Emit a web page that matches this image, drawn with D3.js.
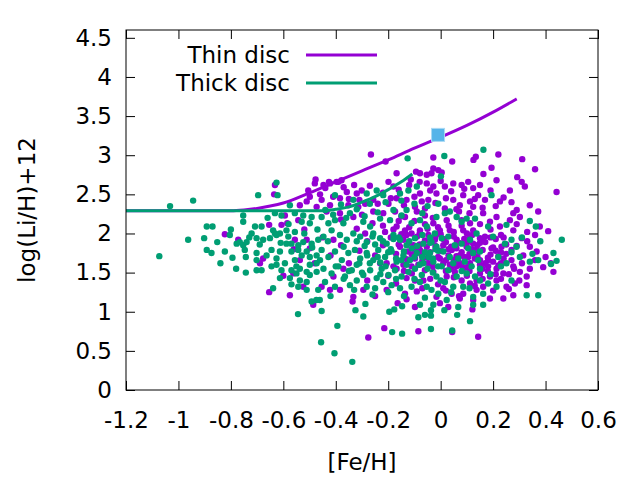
<!DOCTYPE html>
<html>
<head>
<meta charset="utf-8">
<script src="https://cdn.jsdelivr.net/npm/d3@7"></script>
<style>
body { margin: 0; background: #fff; }
text { font-family: "DejaVu Sans", sans-serif; }
</style>
</head>
<body>
<svg id="chart" width="640" height="480"></svg>
<script>
// thin disc stars [Fe/H, log(Li/H)+12]
var thinStars = [
[-0.632,2.62],[-0.635,2.50],[-0.594,2.23],[-0.585,2.13],[-0.607,2.11],[-0.654,2.11],[-0.543,2.17],[-0.537,2.36],[-0.511,2.41],[-0.499,2.47],
[-0.473,2.34],[-0.480,2.64],[-0.505,2.55],[-0.823,1.99],[-0.772,1.92],[-0.556,1.92],[-0.511,1.92],[-0.499,1.81],[-0.677,1.68],[-0.689,1.62],
[-0.562,1.49],[-0.537,1.66],[-0.524,1.32],[-0.575,1.21],[-0.654,1.25],
[-0.447,2.62],[-0.422,2.64],[-0.390,2.66],[-0.358,2.53],[-0.320,2.51],[-0.301,2.55],[-0.257,2.43],[-0.199,2.66],[-0.180,2.60],[-0.079,2.51],
[-0.053,2.64],[-0.454,2.43],[-0.422,2.36],[-0.384,2.45],[-0.352,2.36],[-0.314,2.34],[-0.288,2.38],[-0.199,2.38],[-0.168,2.45],[-0.130,2.43],
[-0.098,2.34],[-0.072,2.41],[-0.047,2.43],[-0.435,2.28],[-0.384,2.26],[-0.333,2.21],[-0.257,2.28],[-0.219,2.26],[-0.174,2.28],[-0.136,2.21],
[-0.091,2.28],[-0.060,2.23],[-0.409,1.92],[-0.320,2.06],[-0.288,2.00],[-0.212,2.02],[-0.168,2.09],[-0.136,2.04],[-0.111,2.00],[-0.079,2.04],
[-0.047,1.98],[-0.142,1.92],[-0.104,1.85],[-0.079,1.79],[-0.053,1.83],[-0.155,1.83],[-0.123,1.77],[-0.098,1.68],[-0.072,1.72],[-0.047,1.62],
[-0.142,1.60],[-0.111,1.58],[-0.085,1.60],[-0.060,1.53],[-0.206,1.62],[-0.231,1.62],[-0.168,1.55],[-0.130,1.43],[-0.098,1.40],[-0.066,1.40],
[-0.371,1.55],[-0.409,1.45],[-0.454,1.32],[-0.384,1.28],[-0.295,1.28],[-0.206,1.28],[-0.136,1.23],[-0.091,1.26],[-0.422,1.28],[-0.333,1.19],
[-0.028,2.60],[0.016,2.60],[0.048,2.64],[0.080,2.62],[0.105,2.66],[0.124,2.58],[0.150,2.62],[0.213,2.68],[0.309,2.66],[0.321,2.60],
[0.264,2.55],[0.340,2.36],[0.372,2.28],[0.086,2.49],[0.143,2.49],[0.169,2.43],[0.048,2.43],[0.073,2.36],[0.112,2.41],[0.124,2.34],
[-0.016,2.51],[0.016,2.32],[0.226,2.41],[0.277,2.26],[0.302,2.21],[0.264,2.17],[0.213,2.21],[0.162,2.26],[0.188,2.15],[0.226,2.09],
[0.277,2.04],[0.309,1.94],[0.340,1.83],[0.315,1.72],[0.366,1.77],[0.270,1.79],[0.232,1.83],[0.194,1.81],[0.181,1.66],[0.213,1.55],
[0.239,1.49],[0.277,1.58],[0.302,1.51],[0.328,1.45],[0.283,1.36],[0.251,1.32],[0.213,1.40],[0.188,1.45],[0.150,1.49],[0.181,1.58],
[0.112,1.62],[0.086,1.55],[0.054,1.51],[0.080,1.40],[0.112,1.36],[0.137,1.28],[0.086,1.23],[0.042,1.23],[0.010,1.30],[-0.016,1.19],
[-0.003,1.11],[0.073,1.17],[0.029,1.06],[0.124,1.15],[0.188,1.17],[0.162,1.32],[0.137,1.40],[0.099,1.83],[0.137,1.79],[0.150,1.94],
[0.061,1.92],[0.035,2.04],[0.086,2.04],[0.124,2.04],[-0.003,2.04],[-0.028,2.13],[0.023,2.17],[0.080,2.17],[0.112,2.13],[0.169,1.96],
[0.150,1.66],[0.239,1.17],[0.277,1.21],[0.328,1.34],[-0.022,1.92],[0.010,1.85],[0.042,1.79],[0.073,1.72],[-0.003,1.68],[0.035,1.60],
[-0.028,1.51],[0.124,1.87],[0.105,1.70],[0.023,1.45],
[-0.266,3.01],[-0.210,2.92],[-0.168,2.77],[-0.094,2.79],[-0.079,2.77],[-0.477,2.69],[-0.426,2.66],[-0.378,2.68],[-0.114,2.69],[-0.397,2.66],
[-0.028,2.97],[0.044,2.92],[0.125,2.94],[0.134,2.98],[0.220,3.01],[0.311,2.95],[0.360,2.82],[0.194,2.84],[0.163,2.76],[0.292,2.72],
[-0.053,2.75],[-0.028,2.83],[0.004,2.78],[-0.035,2.77],[-0.009,2.81],[0.442,2.53],[0.410,2.03],[0.378,2.09],
[0.391,1.57],[0.430,1.51],[0.143,0.68],[0.044,0.74],[0.121,1.03],
[-0.276,0.67],[-0.215,0.79],[-0.085,0.75],[-0.486,1.09],[-0.336,1.13],[-0.164,1.11],[-0.098,1.06],
[-0.19,1.95],[-0.17,1.74],[-0.15,1.99],[-0.13,1.67],[-0.12,1.88],[-0.10,1.80],[-0.09,1.96],[-0.07,1.65],[-0.06,1.91],[-0.04,1.76],
[-0.03,1.58],[-0.02,1.84],[-0.01,1.70],[0.00,1.99],[0.01,1.62],[0.02,1.89],[0.03,1.72],[0.04,1.55],[0.05,1.96],[0.06,1.81],
[0.07,1.63],[0.08,1.76],[0.09,1.93],[0.10,1.57],[0.11,1.74],[0.12,1.98],[0.13,1.68],[0.14,1.85],[0.15,1.60],[0.16,1.79],
[0.17,1.89],[0.18,1.52],[0.19,1.73],[0.20,1.64],[0.21,1.93],[0.22,1.59],[0.23,1.76],[0.24,1.68],[0.25,1.86],[0.26,1.48],
[-0.18,1.58],[-0.16,1.86],[-0.14,1.52],[-0.11,1.73],[-0.08,1.86],[-0.05,1.69],[-0.02,1.96],[0.00,1.78],[0.02,1.66],[0.04,1.83],
[0.06,1.71],[0.08,1.59],[0.10,1.88],[0.12,1.80],[0.14,1.71],[0.16,1.92],[0.18,1.69],[0.20,1.82],[0.22,1.71],[0.24,1.95],
[-0.46,2.50],[-0.44,2.58],[-0.41,2.47],[-0.37,2.59],[-0.35,2.44],[-0.33,2.62],[-0.31,2.43],[-0.27,2.61],[-0.24,2.38],[-0.22,2.52],
[-0.19,2.45],[-0.16,2.56],[-0.14,2.36],[-0.12,2.62],[-0.10,2.47],[-0.08,2.66],[-0.06,2.32],[-0.04,2.55],[-0.02,2.39],[0.00,2.67],
[0.02,2.45],[0.04,2.54],[0.06,2.31],[0.09,2.57],[0.11,2.26],[0.13,2.44],[0.16,2.33],[0.19,2.55],[0.21,2.35],[0.24,2.46],
[0.27,2.40],[0.29,2.30],[-0.38,2.18],[-0.30,2.24],[-0.26,2.13],[-0.22,2.10],[-0.16,2.16],[-0.12,2.08],[-0.05,2.06],[0.03,2.10],
[0.07,2.28],[0.10,2.00],[0.15,2.12],[0.19,2.05],[0.23,1.98],[0.29,2.12],[0.33,2.02],
[-0.28,1.40],[-0.25,1.20],[-0.20,1.46],[-0.17,1.36],[-0.13,1.16],[-0.11,1.49],[-0.07,1.30],[-0.04,1.42],[-0.01,1.35],[0.02,1.27],
[0.05,1.44],[0.07,1.20],[0.10,1.46],[0.13,1.33],[0.16,1.42],[0.20,1.27],[0.23,1.42],[0.26,1.29],[0.30,1.40],[0.34,1.55],
[0.36,1.66],[0.33,1.90],[0.36,1.98],[0.40,1.70],[0.42,1.62],
[-0.60,1.46],[-0.56,1.80],[-0.52,2.05],[-0.48,1.62],[-0.45,1.95],[-0.42,1.72],[-0.38,1.85],[-0.35,1.62],[-0.31,1.78],[-0.28,1.90],
[-0.25,1.72],[-0.22,1.85],
[0.01,1.93],[0.03,1.80],[0.05,1.66],[0.07,1.88],[0.09,1.70],[0.11,1.95],[0.13,1.78],[0.15,1.88],[0.17,1.62],[0.19,1.95],
[0.21,1.78],[0.23,1.62],[0.25,1.74],[0.27,1.66],[0.29,1.84],[0.31,1.62],
[-0.18,2.05],[-0.15,2.22],[-0.13,1.98],[-0.10,2.16],[-0.08,2.00],[-0.06,2.12],[-0.03,2.20],[-0.01,2.08],[0.05,2.02],[0.08,2.10],
[0.02,1.52],[0.06,1.58],[0.11,1.52],[0.16,1.55],[0.21,1.48],[0.28,1.55]
];

// thick disc stars [Fe/H, log(Li/H)+12]
var thickStars = [
[-1.032,2.35],[-0.944,2.42],[-1.073,1.71],[-0.892,2.09],[-0.963,1.92],[-0.902,1.94],[-0.892,1.79],
[-0.626,2.65],[-0.696,2.49],[-0.622,2.49],[-0.753,2.23],[-0.753,2.15],[-0.632,2.26],[-0.607,2.23],[-0.575,2.36],[-0.556,2.26],[-0.524,2.23],
[-0.492,2.21],[-0.499,2.13],[-0.530,2.15],[-0.870,2.09],[-0.804,1.98],[-0.852,1.89],[-0.778,1.87],[-0.766,1.89],[-0.753,1.85],[-0.740,1.89],
[-0.708,2.09],[-0.683,2.09],[-0.721,2.00],[-0.702,1.94],[-0.677,1.92],[-0.651,1.94],[-0.639,2.04],[-0.632,2.00],[-0.626,1.98],[-0.613,2.00],
[-0.588,2.04],[-0.581,1.96],[-0.556,2.02],[-0.588,1.87],[-0.569,1.87],[-0.543,1.85],[-0.524,1.89],[-0.492,1.87],[-0.467,1.92],[-0.874,1.75],
[-0.823,1.77],[-0.794,1.69],[-0.747,1.79],[-0.743,1.70],[-0.702,1.75],[-0.702,1.66],[-0.664,1.72],[-0.645,1.79],[-0.613,1.77],[-0.626,1.68],
[-0.594,1.62],[-0.569,1.77],[-0.543,1.79],[-0.530,1.72],[-0.556,1.66],[-0.511,1.77],[-0.499,1.70],[-0.473,1.72],[-0.645,1.58],[-0.626,1.60],
[-0.607,1.53],[-0.569,1.53],[-0.550,1.49],[-0.537,1.55],[-0.511,1.51],[-0.499,1.60],[-0.473,1.62],[-0.743,1.50],[-0.702,1.53],[-0.683,1.53],
[-0.613,1.43],[-0.575,1.43],[-0.537,1.40],[-0.511,1.38],[-0.499,1.47],[-0.473,1.51],[-0.639,1.30],[-0.569,1.35],[-0.543,1.32],[-0.511,1.28],
[-0.467,1.28],[-0.492,1.13],[-0.461,1.15],
[-0.403,2.49],[-0.333,2.43],[-0.282,2.51],[-0.244,2.55],[-0.219,2.49],[-0.155,2.51],[-0.123,2.55],[-0.091,2.60],[-0.454,2.21],[-0.428,2.13],
[-0.403,2.17],[-0.371,2.13],[-0.346,2.26],[-0.295,2.15],[-0.269,2.09],[-0.231,2.19],[-0.193,2.17],[-0.149,2.23],[-0.111,2.13],[-0.079,2.17],
[-0.053,2.09],[-0.447,1.96],[-0.416,2.04],[-0.384,1.98],[-0.358,1.92],[-0.333,2.00],[-0.307,1.96],[-0.282,1.89],[-0.257,2.00],[-0.231,1.94],
[-0.206,1.87],[-0.180,1.98],[-0.155,1.92],[-0.130,1.85],[-0.098,1.94],[-0.066,1.87],[-0.454,1.79],[-0.428,1.70],[-0.403,1.77],[-0.377,1.66],
[-0.352,1.75],[-0.327,1.79],[-0.307,1.68],[-0.282,1.75],[-0.257,1.66],[-0.238,1.79],[-0.212,1.70],[-0.187,1.77],[-0.168,1.64],[-0.142,1.72],
[-0.117,1.66],[-0.091,1.75],[-0.066,1.62],[-0.047,1.70],[-0.447,1.55],[-0.416,1.49],[-0.390,1.58],[-0.365,1.45],[-0.339,1.53],[-0.320,1.60],
[-0.295,1.47],[-0.269,1.53],[-0.244,1.43],[-0.225,1.55],[-0.199,1.47],[-0.174,1.53],[-0.149,1.45],[-0.123,1.51],[-0.098,1.55],[-0.072,1.47],
[-0.441,1.38],[-0.403,1.32],[-0.346,1.34],[-0.320,1.40],[-0.282,1.32],[-0.250,1.30],[-0.219,1.38],[-0.187,1.34],[-0.155,1.30],[-0.111,1.32],
[-0.079,1.38],[-0.053,1.32],
[-0.544,0.97],[-0.454,1.01],[-0.394,0.82],[-0.456,0.61],[-0.405,0.47],[-0.337,0.36],[-0.295,0.94],[-0.325,1.02],[-0.185,0.74],[-0.147,0.72],
[-0.196,1.00],[-0.085,0.93],[-0.060,0.96],[-0.474,1.15],[-0.147,1.07],[-0.079,1.09],[-0.177,1.03],[-0.287,1.10],
[-0.126,2.96],[0.014,2.99],[0.163,3.07],[0.001,2.73],[0.462,1.92],
[0.421,1.61],[0.442,1.65],[-0.037,0.78],[0.044,0.76],[0.112,0.88],[0.063,0.96],[0.014,1.02],[-0.037,1.02],[-0.037,0.95],
[0.194,2.49],[-0.009,2.38],[0.251,2.11],[0.340,2.16],[0.363,2.09],[0.181,2.09],[0.200,1.96],[0.245,1.87],[0.270,1.92],[0.289,1.83],
[0.220,1.70],[0.251,1.62],[0.302,1.70],[0.340,1.64],[0.372,1.66],[0.270,1.40],[0.213,1.32],[0.181,1.36],[0.162,1.23],[0.124,1.19],
[0.162,1.09],[0.124,1.09],[0.067,1.06],[0.328,1.21],[0.372,1.21],
[-0.016,2.21],[0.016,2.26],[0.035,2.28],[0.061,2.21],[0.080,2.15],[0.099,2.19],[0.131,2.19],[0.137,2.00],[-0.022,2.00],[0.004,1.94],
[0.029,1.96],[0.054,1.85],[0.080,1.87],[0.105,1.81],[0.124,1.75],[0.150,1.77],[-0.016,1.83],[0.010,1.77],[0.035,1.70],[0.067,1.68],
[0.092,1.64],[0.118,1.58],[-0.028,1.64],[0.004,1.58],[0.029,1.53],[0.061,1.45],[0.099,1.49],[0.131,1.45],[-0.016,1.45],[0.016,1.38],
[0.048,1.32],[-0.035,1.28],[-0.009,1.23],[0.023,1.15],[-0.028,1.09],[0.086,1.32],[0.150,1.55],[-0.035,1.89],[-0.041,1.75],[0.112,1.92],
[0.143,1.66],[0.048,1.62],
[-0.29,1.84],[-0.27,1.62],[-0.26,1.96],[-0.24,1.70],[-0.22,1.90],[-0.21,1.58],[-0.19,1.80],[-0.17,1.68],[-0.16,1.95],[-0.14,1.77],
[-0.13,1.60],[-0.12,1.90],[-0.10,1.70],[-0.09,1.84],[-0.08,1.60],[-0.07,1.98],[-0.06,1.76],[-0.05,1.55],[-0.04,1.88],[-0.03,1.68],
[-0.02,1.80],[-0.01,1.58],
[-0.28,1.72],[-0.25,1.86],[-0.23,1.63],[-0.20,1.76],[-0.18,1.93],[-0.15,1.66],[-0.11,1.81],[-0.07,1.70],[-0.04,1.95],[-0.01,1.78],
[-0.44,2.30],[-0.41,2.24],[-0.38,2.37],[-0.36,2.20],[-0.32,2.31],[-0.29,2.22],[-0.27,2.38],[-0.24,2.27],[-0.21,2.40],[-0.18,2.30],
[-0.15,2.42],[-0.13,2.30],[-0.10,2.38],[-0.07,2.26],[-0.05,2.35],
[-0.84,1.62],[-0.80,2.05],[-0.78,1.55],[-0.73,1.95],[-0.69,1.86],[-0.66,2.20],[-0.61,1.88],[-0.58,2.12],[-0.55,1.58],[-0.52,2.00],
[-0.49,1.82],[-0.47,2.05],[-0.46,1.66],[-0.43,1.90],[-0.40,1.58],[-0.37,1.83],[-0.35,1.52],[-0.32,1.90],[-0.31,1.62],
[-0.42,1.20],[-0.37,1.42],[-0.33,1.28],[-0.30,1.50],[-0.26,1.22],[-0.23,1.48],[-0.20,1.25],[-0.17,1.42],[-0.14,1.20],[-0.10,1.42],
[-0.06,1.18],[-0.03,1.50],[0.00,1.40],[0.04,1.25],[0.08,1.52],[0.11,1.30],[0.15,1.40],[0.19,1.48],[0.23,1.58],[0.27,1.76],
[0.31,1.95],[0.35,1.74],[0.38,1.90],[0.43,1.75]
];

// model curves
var thinCurve = [[-1.2,2.29],[-0.8,2.29],[-0.75,2.30],[-0.7,2.32],[-0.65,2.35],[-0.6,2.39],[-0.5,2.52],[-0.4,2.66],
  [-0.3,2.80],[-0.2,2.94],[-0.1,3.09],[0,3.23],[0.1,3.38],[0.2,3.55],[0.29,3.72]];
var thickCurve = [[-1.2,2.29],[-0.45,2.29],[-0.4,2.31],[-0.35,2.34],[-0.3,2.40],[-0.25,2.47],[-0.2,2.56],
  [-0.15,2.66],[-0.108,2.76]];
var sun = [[-0.01, 3.26]];

var xTicks = [-1.2, -1, -0.8, -0.6, -0.4, -0.2, 0, 0.2, 0.4, 0.6];
var xTickLabels = ["-1.2", "-1", "-0.8", "-0.6", "-0.4", "-0.2", "0", "0.2", "0.4", "0.6"];
var yTicks = [0, 0.5, 1, 1.5, 2, 2.5, 3, 3.5, 4, 4.5];
var yTickLabels = ["0", "0.5", "1", "1.5", "2", "2.5", "3", "3.5", "4", "4.5"];

var legendNames = ["Thin disc", "Thick disc"];
var colours = ["#9400d3", "#009e73"];

var plotL = 126, plotR = 598, plotT = 30, plotB = 390;
var fontSize = '23px';

var svg = d3.select('#chart');

var x = d3.scaleLinear().domain([-1.2, 0.6]).range([plotL, plotR]);
var y = d3.scaleLinear().domain([0, 4.6]).range([plotB, plotT]);

// points
function drawStars(data, colour) {
    svg.append('g').selectAll('circle')
        .data(data)
        .enter().append('circle')
        .attr('cx', function(d) { return x(d[0]); })
        .attr('cy', function(d) { return y(d[1]); })
        .attr('r', 3.2)
        .style('fill', colour);
}
drawStars(thinStars, colours[0]);
drawStars(thickStars, colours[1]);

var line = d3.line()
    .x(function(d) { return x(d[0]); })
    .y(function(d) { return y(d[1]); })
    .curve(d3.curveMonotoneX);

svg.append('path').datum(thinCurve)
    .attr('d', line)
    .style('fill', 'none').style('stroke', colours[0]).style('stroke-width', 3);
svg.append('path').datum(thickCurve)
    .attr('d', line)
    .style('fill', 'none').style('stroke', colours[1]).style('stroke-width', 3);

svg.selectAll('rect.sun')
    .data(sun)
    .enter().append('rect')
    .attr('class', 'sun')
    .attr('x', function(d) { return x(d[0]) - 6.5; })
    .attr('y', function(d) { return y(d[1]) - 6.5; })
    .attr('width', 13)
    .attr('height', 13)
    .style('fill', '#56b4e9')
    .style('stroke', '#a9d9f4')
    .style('stroke-width', 1);

// axes, ticks inward on all four sides
svg.append('g').attr('transform', 'translate(0,' + plotB + ')')
    .call(d3.axisBottom(x).tickValues(xTicks).tickSize(-9).tickPadding(22)
        .tickFormat(function(d, i) { return xTickLabels[i]; }));
svg.append('g').attr('transform', 'translate(' + plotL + ',0)')
    .call(d3.axisLeft(y).tickValues(yTicks).tickSize(-9).tickPadding(14)
        .tickFormat(function(d, i) { return yTickLabels[i]; }));
svg.append('g').attr('transform', 'translate(0,' + plotT + ')')
    .call(d3.axisTop(x).tickValues(xTicks).tickSize(-9).tickFormat(''));
svg.append('g').attr('transform', 'translate(' + plotR + ',0)')
    .call(d3.axisRight(y).tickValues(yTicks).tickSize(-9).tickFormat(''));

svg.selectAll('.domain').remove();
svg.selectAll('.tick line').style('stroke', '#000').style('stroke-width', 1);
svg.selectAll('.tick text')
    .style('font-family', '"DejaVu Sans", sans-serif')
    .style('font-size', fontSize)
    .style('fill', '#000');

svg.append('rect')
    .attr('x', plotL).attr('y', plotT)
    .attr('width', plotR - plotL).attr('height', plotB - plotT)
    .style('fill', 'none').style('stroke', '#000').style('stroke-width', 1);

// legend
var legend = svg.append('g').selectAll('g')
    .data(legendNames)
    .enter().append('g')
    .attr('transform', function(d, i) { return 'translate(0,' + (55 + i * 28) + ')'; });
legend.append('text')
    .attr('x', 290)
    .attr('dy', '0.35em')
    .attr('text-anchor', 'end')
    .style('font-size', fontSize)
    .text(function(d) { return d; });
legend.append('line')
    .attr('x1', 306).attr('x2', 377)
    .style('stroke', function(d, i) { return colours[i]; })
    .style('stroke-width', 3);

// axis titles
svg.append('text')
    .attr('x', (plotL + plotR) / 2)
    .attr('y', 462)
    .attr('dy', '0.35em')
    .attr('text-anchor', 'middle')
    .style('font-size', fontSize)
    .text('[Fe/H]');
svg.append('text')
    .attr('transform', 'translate(27,' + ((plotT + plotB) / 2) + ') rotate(-90)')
    .attr('dy', '0.35em')
    .attr('text-anchor', 'middle')
    .style('font-size', fontSize)
    .text('log(Li/H)+12');
</script>
</body>
</html>
